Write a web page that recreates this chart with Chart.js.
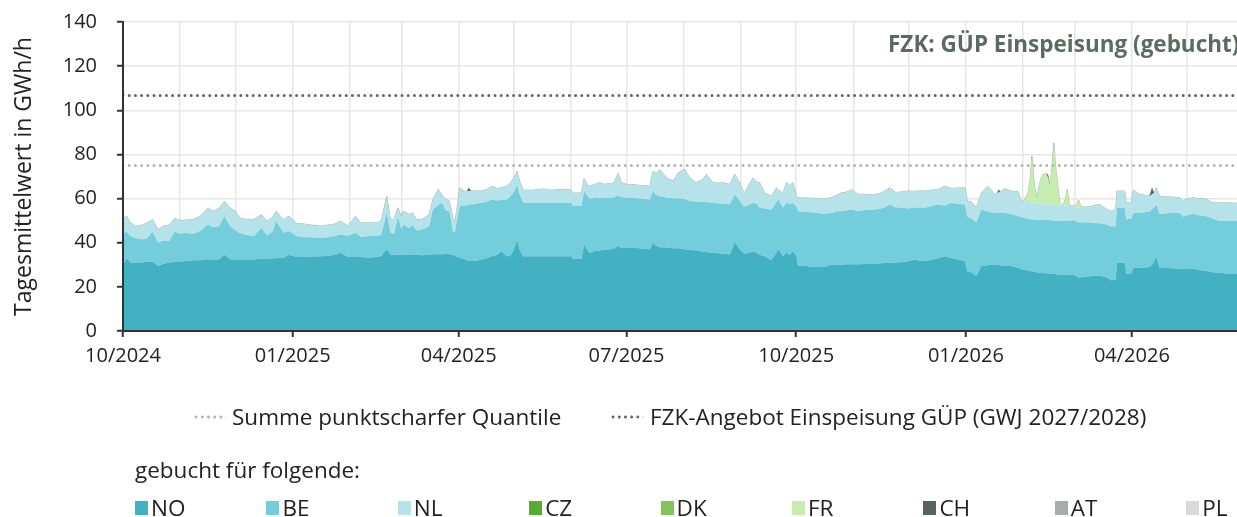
<!DOCTYPE html>
<html lang="de">
<head>
<meta charset="utf-8">
<title>FZK: GÜP Einspeisung (gebucht)</title>
<script src="https://cdn.jsdelivr.net/npm/chart.js@4.4.1/dist/chart.umd.min.js"></script>
<style>
  html, body { margin: 0; padding: 0; background: #fff; }
  body { width: 1237px; height: 517px; position: relative; overflow: hidden;
         font-family: "Open Sans", sans-serif; color: #222; }
  #wrap { position: absolute; left: 0; top: 0; width: 1237px; height: 517px; }
  .title { position: absolute; left: 888px; top: 29px; font-weight: 700; font-size: 22.5px;
           color: #5b6b63; white-space: nowrap; line-height: 30px; }
  .lg { position: absolute; font-size: 22.5px; line-height: 28px; white-space: nowrap; color: #222; }
  .dots { position: absolute; width: 33px; height: 4px; background-repeat: repeat-x; background-size: 6.2px 4px; }
  .sq { position: absolute; width: 13px; height: 14px; }
</style>
</head>
<body>
<div id="wrap"><canvas id="c"></canvas></div>
<div class="title">FZK: GÜP Einspeisung (gebucht)</div>
<div id="legend"></div>
<script>
// Day offsets counted from 1 Oct 2024 (gas year start)
const days = [
  0,2,4,7,10,13,16,19,22,25,
  28,31,34,38,42,46,49,52,55,58,
  61,63,67,71,75,78,81,83,87,90,
  94,98,102,107,111,115,118,122,126,129,
  133,137,140,143,145,147,149,151,152,155,
  157,159,162,166,168,171,173,175,177,179,
  180,181,182.6,185,186.5,187.5,188.5,191,194,197,
  200,203,205,208,210,212,213.7,215,216.9,222,
  228,232,238,243,244,248.6,250,252,253.1,256,
  258.5,261,264,266,268.5,270.3,273,276,280,283,
  285.6,287.4,289.2,291,294.7,298.3,301,304.6,307.3,310.9,
  314,316.3,319.9,323,325.4,329,331.7,334.4,336.2,337.1,
  339.5,341.6,343.5,345.2,347.9,350.7,351.6,354.3,355.2,357.9,
  359.7,361.5,363.3,365.1,366,370,375,380,384.1,387,
  389.5,392,395,398.6,402,405,407.6,411,413,415.7,
  419,422,425.7,429.3,432,434.7,438,441.9,445.5,449.2,
  452.8,456.4,457.8,460,462.7,465.4,469,472.6,474,474.8,
  475.6,478.1,481.7,485.3,487.1,488.3,490.7,492,492.8,494.3,
  495.5,497,498.4,500.6,501.5,502.4,503.5,504.7,505.6,506.4,
  507.8,509.6,511,512,513.2,515.1,517,518.1,519.5,521,
  524.1,527,529.5,533.1,535.8,538.2,538.9,543.1,544,546.7,
  547.9,551.2,554,556.6,557.9,559,560.2,562,566,570,
  572.9,574.7,577,580.1,583,587.3,590.9,594.6,598.2,601,
  604
];

// Booked capacity per market area, GWh/h (daily means)
const no = [
  30,33,31,31,31,31.5,31.5,29.5,30.5,31,
  31.5,31.5,31.7,32,32,32.5,32.4,32.4,34.7,32.5,
  32.4,32.4,32.4,32.4,32.8,32.8,33,33,33.2,34.5,
  33.5,33.5,33.8,33.9,34,34.5,35.4,33.5,33.5,33.5,
  33.2,33.5,34,37,34.7,34.5,34.5,34.7,34.7,34.7,
  34.5,34.5,34.3,34.5,34.8,34.8,34.8,35,34.8,34.5,
  34,33.5,33.2,32.5,32,31.7,31.7,31.7,32.4,32.8,
  33.9,34.5,36.2,34,33.9,37,41.5,37,33.9,33.9,
  33.9,33.9,33.9,33.9,32.7,32.7,39.2,36.5,35.4,36.2,
  36.5,36.8,37,37.2,38.5,37.5,37.7,37.7,37.5,37.2,
  37,40,38.5,38,37.8,37.5,37.5,37,36.8,36.5,
  36,35.8,35.5,35.2,35,34.7,40.3,37,35.4,35,
  35.5,36,35.5,34.5,33.9,32.4,32.4,35.5,37,34,
  35.5,34.5,36.2,33.9,29.7,29.5,29,29,30,29.8,
  30,30.2,30.2,30.2,30.3,30.5,30.5,30.7,30.8,30.9,
  31,31.3,31.6,32.4,31.8,31.7,32.2,33,33.9,33,
  32.4,31.7,27.1,26.5,24.9,29.4,29.8,30.2,30,30,
  29.8,29.5,29.4,28.7,28,27.8,27.4,27.2,27.1,26.8,
  26.6,26.4,26.3,26.2,26.1,26,26,25.9,25.8,25.7,
  25.6,25.6,25.5,25.5,25.5,25.6,24.8,24.2,24.3,24.5,
  24.8,25,25,24.5,23,23.2,30.9,30.9,25.9,26.2,
  28.7,28.7,28.8,29,30,31.5,33.9,28.7,28.5,28.4,
  28.2,28,28.3,28.2,27.8,27.2,26.6,26.4,26,26,
  26
];
const be = [
  14,12,12,11,10.5,10.5,13.5,10.5,10.5,9.7,
  13.5,12.5,12.8,12,13.3,15.8,14.6,15.1,17.3,15,
  13.1,12.1,11.1,10.6,14,10.5,12,16.8,11.3,10.8,
  9.5,9,8.7,8.3,8.5,8.5,8.3,9.5,11,9.1,
  9.8,9.5,9.5,16.6,9.8,9.5,17.5,11.3,13.6,11.8,
  13.5,11,11.7,13,20.2,22.2,23.3,19.5,19.5,10,
  11,16.5,23.4,24.3,25,25.6,25.6,25.8,25.7,25.7,
  25.7,24.5,23.4,25.5,27.2,26,24.9,25,24.2,24.2,
  24.2,24.2,24.2,24.2,23.9,23.9,24.2,24.5,24.5,24.2,
  23.7,23.6,23.4,23.3,23,23.1,22.8,22.7,22.5,22.6,
  22.6,23.4,23,23,22.7,22.7,22.5,22.8,22.1,22.1,
  22.3,22.7,22.6,22.6,22.6,22.6,21.6,22,21.2,21.4,
  21.7,22.1,22,21.3,21.6,22.7,22.6,23,22.6,22,
  22.5,23,21.8,22.5,24.6,24.5,24.7,24,23.5,24.4,
  24.3,24.4,24.8,24.1,24.5,24.2,24.6,24.8,25.2,26.4,
  25,24.5,23.9,23.6,24.1,24.1,24.3,24.3,22.9,25.1,
  25.1,25.6,24.7,24.5,24.1,25.7,24.2,23.4,23.6,23.6,
  23.8,24,23.6,23.3,23.6,23.5,23.4,23.4,23.4,23.6,
  23.7,23.8,24,24.3,24.3,24.3,24.2,24.2,24.2,24.3,
  24.2,24.2,24.3,24.3,24.5,24.6,24.8,25,24.9,24.8,
  24.2,23.8,23.8,23.8,24.3,24.3,24.9,24.9,24.6,24.8,
  24.9,24.9,25,25,25,24.5,23.4,24.3,24.9,25.2,
  25.4,23.8,24.2,24.8,24.7,24.8,24.4,23.4,23.8,23.9,
  23.8
];
const nl = [
  7,7,6,5.5,6.5,7,5.5,6,6.5,7.3,
  6,6,5.8,6.5,6.7,7.5,7.3,8,6.9,8.3,
  8.8,6.8,7,7.5,6,6.5,6.5,4.5,6,6.7,
  5.7,6,5.5,5.3,5.5,5.5,6.1,4.5,7.5,6.4,
  6,6,6.3,7.5,6,6.5,3.8,6,6,6.3,
  5.5,5,4.5,5.3,4.6,7.1,3.4,5.1,4.6,6,
  4.8,5,8.3,6.6,6.3,6.1,6.1,6,5.3,5.5,
  6,5.5,5.3,6,6.1,6.5,6,6,5.7,5.7,
  6.2,5.7,6.1,5.7,5.9,5.9,5.6,5,5.7,6.1,
  7,6.1,6.4,6.5,9.9,6.6,5.9,6,6,6,
  6,9,10,12.2,8.9,7.7,11.7,13.4,10.5,8.6,
  10.2,12.4,9.1,9.2,9.6,9.1,9,8.2,6.9,6.2,
  9.3,11.3,10,11.4,7.1,6.4,6.1,6.4,4.4,6.5,
  9.2,8.5,9.2,4.7,6.1,6.3,6.4,6.7,7,7.3,
  8.3,8.2,9.1,7.6,7.2,7.1,6.8,6.9,7.5,7.6,
  6.8,7.2,7.9,7.3,7.6,7.6,7.3,6.8,8.8,6.5,
  7.3,7.6,7.1,7.5,6.8,7.5,11.6,8.3,8.9,9.2,
  9.4,11,10.4,11.1,7.3,7.4,7.7,7.7,7.7,7.6,
  7.5,7.3,7.1,6.8,6.9,7,7,7.1,7.1,7,
  6.8,7,7.1,7.2,6.8,6.4,6.6,6.8,6.9,6.9,
  7.3,8.2,8.5,7,7,7.5,7.6,7.6,7.6,7.1,
  10.2,8.3,7.7,7.1,6.8,6.5,7.6,8.1,7.4,7,
  6.8,7.2,7.3,7.4,7.5,7.7,7.1,8.3,8.3,8.1,
  8.1
];
// FR and CH only book on a few days; every other day is zero
const frDays = [490.7,492,492.8,494.3,495.5,497,498.4,500.6,501.5,502.4,503.5,504.7,505.6,506.4,507.8,511,512,517,518.1];
const frVals = [4,12,21,7,2.5,9.5,13.3,14.2,12,9,15,28,18,11.8,2,3,7.2,1,3.3];
const chDays = [187.5,474.8,501.5,557.9];
const chVals = [1.5,1.2,1.5,3];
// No bookings in the shown period
const cz = [], dk = [], at = [], pl = [];

// Reference levels, GWh/h
const quantilSumme = 75;
const fzkAngebot = 106.7;

// Axis: month starts, labelled every quarter
const xMax = 604;
const tickDays = [0,31,61,92,123,151,182,212,243,273,304,335,365,396,426,457,488,516,547,577];
const tickLabels = ['10/2024','','','01/2025','','','04/2025','','','07/2025','','','10/2025','','','01/2026','','','04/2026',''];

const seriesNames = ['NO','BE','NL','CZ','DK','FR','CH','AT','PL'];
const seriesColors = ['#42b1c4','#73cddb','#b6e3ea','#56ad33','#84c45a','#c6ecb0','#56645c','#a7adaa','#d9d9d9'];

function align(sDays, sVals) {
  return days.map(d => { const i = sDays.indexOf(d); return i < 0 ? 0 : sVals[i]; });
}
const fr = align(frDays, frVals);
const ch = align(chDays, chVals);

const pts = s => s.length ? days.map((d, i) => ({ x: d, y: s[i] })) : [];
const area = (idx, data, fill, extra) => Object.assign({
  label: seriesNames[idx], data: pts(data),
  backgroundColor: seriesColors[idx], borderColor: seriesColors[idx],
  borderWidth: 0, pointRadius: 0, tension: 0, fill
}, extra || {});
const refLine = (label, value, color, stack) => ({
  label, stack, data: [{ x: 0, y: value }, { x: xMax, y: value }],
  borderColor: color, borderWidth: 3, borderDash: [0, 6.2], borderCapStyle: 'round',
  pointRadius: 0, fill: false
});

const font = { family: '"Open Sans", sans-serif', size: 20 };

new Chart(document.getElementById('c'), {
  type: 'line',
  data: {
    datasets: [
      refLine('Summe punktscharfer Quantile', quantilSumme, '#b4b4b4', 'quantile'),   // 0
      refLine('FZK-Angebot Einspeisung GÜP (GWJ 2027/2028)', fzkAngebot, '#5e6864', 'angebot'), // 1
      area(0, no, 'origin'),  // 2
      area(1, be, 2),         // 3
      area(2, nl, 3),         // 4
      area(3, cz, false),     // 5
      area(4, dk, false),     // 6
      area(5, fr, 4),         // 7
      area(6, ch, 7, { borderWidth: 1, borderColor: 'rgba(110,125,110,0.55)' }), // 8
      area(7, at, false),     // 9
      area(8, pl, false)      // 10
    ]
  },
  options: {
    responsive: true,
    maintainAspectRatio: false,
    animation: false,
    devicePixelRatio: 1,
    layout: { padding: { top: 22, right: 0, bottom: 146, left: 0 } },
    plugins: { legend: { display: false }, tooltip: { enabled: false } },
    scales: {
      x: {
        type: 'linear', min: 0, max: xMax,
        afterBuildTicks: s => { s.ticks = tickDays.map(v => ({ value: v })); },
        afterFit: s => { s.height = 40; },
        ticks: {
          autoSkip: false, maxRotation: 0, padding: 7, color: '#222', font,
          callback: v => { const i = tickDays.indexOf(v); return i < 0 ? '' : tickLabels[i]; }
        },
        grid: {
          color: '#e6e6e6', lineWidth: 1.5, tickLength: 6, tickWidth: 2,
          tickColor: c => (c.tick && tickLabels[tickDays.indexOf(c.tick.value)]) ? '#333' : 'rgba(0,0,0,0)'
        },
        border: { color: '#333', width: 2, z: 1 }
      },
      y: {
        stacked: true, min: 0, max: 140,
        // keep the wide label gap from pushing the plot top down
        afterFit: s => { s.width = 123; s.paddingTop = 12; s.paddingBottom = 12; },
        ticks: { stepSize: 20, padding: 20, color: '#222', font },
        grid: { color: '#e6e6e6', lineWidth: 1.5, tickLength: 6, tickWidth: 2, tickColor: '#333' },
        border: { color: '#333', width: 2, z: 1 },
        title: {
          display: true, text: 'Tagesmittelwert in GWh/h', color: '#222',
          font: { family: '"Open Sans", sans-serif', size: 23 }, padding: { top: 11, bottom: 0 }
        }
      }
    }
  }
});

// Legend below the plot
const lg = document.getElementById('legend');
function addText(text, left, top) {
  const d = document.createElement('div');
  d.className = 'lg'; d.textContent = text;
  d.style.left = left + 'px'; d.style.top = top + 'px';
  lg.appendChild(d);
}
function addDots(color, left, top) {
  const d = document.createElement('div');
  d.className = 'dots';
  d.style.left = left + 'px'; d.style.top = top + 'px';
  d.style.backgroundImage = `radial-gradient(circle at 3.1px 2px, ${color} 1.3px, rgba(255,255,255,0) 1.8px)`;
  lg.appendChild(d);
}
addDots('#b4b4b4', 193, 415);
addText('Summe punktscharfer Quantile', 232, 403);
addDots('#5e6864', 610, 415);
addText('FZK-Angebot Einspeisung GÜP (GWJ 2027/2028)', 650, 403);
addText('gebucht für folgende:', 135, 456);
seriesNames.forEach((name, i) => {
  const left = 135 + i * 131.4;
  const sq = document.createElement('div');
  sq.className = 'sq'; sq.style.left = left + 'px'; sq.style.top = '501px';
  sq.style.background = seriesColors[i];
  lg.appendChild(sq);
  addText(name, left + 16, 494);
});
</script>
</body>
</html>
